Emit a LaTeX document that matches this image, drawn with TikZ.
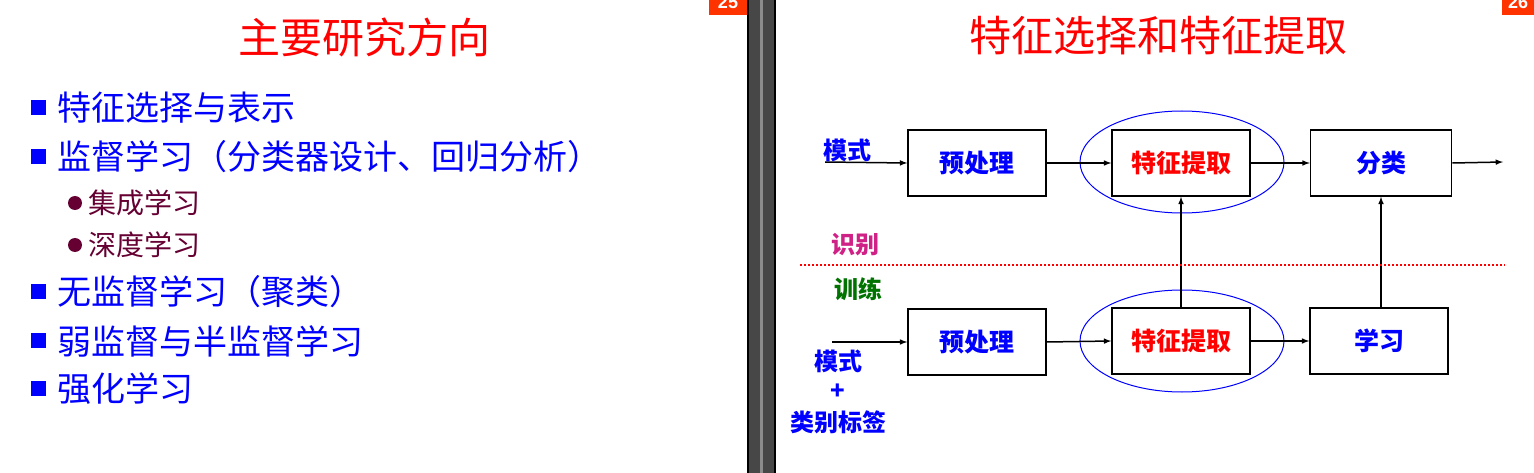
\documentclass[tikz,border=0pt]{standalone}
\usepackage{fontspec}
\usetikzlibrary{shapes.geometric}
\setmainfont{Liberation Sans}
\newfontfamily\cjk{Noto Sans CJK SC}
\newfontfamily\cjkm{Noto Sans CJK SC Medium}
\definecolor{myblue}{RGB}{0,0,255}
\definecolor{myred}{RGB}{255,0,0}
\definecolor{maroon}{RGB}{102,0,51}
\definecolor{orng}{RGB}{255,51,0}
\begin{document}
\begin{tikzpicture}[x=1pt,y=-1pt,
  box/.style={draw,line width=1.5pt,minimum width=138pt,minimum height=66pt,inner sep=0pt,font=\cjk\fontsize{25}{25}\selectfont\bfseries},
  item/.style={anchor=west,text=myblue,font=\cjk\fontsize{34}{34}\selectfont},
  sub/.style={anchor=west,text=maroon,font=\cjk\fontsize{28}{28}\selectfont},
  lbl/.style={font=\cjk\fontsize{24}{24}\selectfont\bfseries},
  arr/.style={-latex,line width=1.5pt},
  ell/.style={draw=myblue,line width=1pt,ellipse,minimum width=204pt,minimum height=102pt}]
\useasboundingbox (0,0) rectangle (1534,473);
\fill[white] (0,0) rectangle (1534,473);
% middle bar
\fill[black] (747,0) rectangle (776,473);
\fill[black!72] (749,0) rectangle (774,473);
\fill[black!45] (760,0) rectangle (763,473);
% page numbers
\fill[orng] (709,0) rectangle (747,15);
\node[text=white,font=\bfseries\fontsize{18}{18}\selectfont] (p1) at (728,2) {25};
\fill[orng] (1502,0) rectangle (1534,15);
\node[text=white,font=\bfseries\fontsize{18}{18}\selectfont] (p2) at (1518,2) {26};
% left slide
\node[text=myred,font=\cjk\fontsize{42}{42}\selectfont] (t1) at (364,37) {主要研究方向};
\foreach \y/\t [count=\i] in {108/特征选择与表示,157/监督学习（分类器设计、回归分析）,292/无监督学习（聚类）,341/弱监督与半监督学习,389/强化学习}{
  \fill[myblue] (31,\y-8) rectangle (46,\y+7);
  \node[item] (it\i) at (54,\y) {\t};
}
\foreach \y/\t [count=\i] in {203/集成学习,245/深度学习}{
  \fill[maroon] (75,\y) circle (7);
  \node[sub] (sb\i) at (85,\y) {\t};
}
% right slide
\node[text=myred,font=\cjk\fontsize{42}{42}\selectfont] (t2) at (1158,36) {特征选择和特征提取};
\node[box,text=myblue] (a1) at (977,163) {预处理};
\node[box,text=myred] (b1) at (1181,163) {特征提取};
\node[box,text=myblue,minimum width=141pt] (c1) at (1381,163) {分类};
\node[ell] (e1) at (1182,162) {};
\node[box,text=myblue] (a2) at (977,342) {预处理};
\node[box,text=myred] (b2) at (1181,341) {特征提取};
\node[box,text=myblue] (c2) at (1379,341) {学习};
\node[ell] (e2) at (1182,341) {};
\coordinate (in1) at (825,162);
\coordinate (out1) at (1503,162);
\coordinate (in2) at (832,342);
\draw[arr] (in1) -- (a1.west);
\draw[arr] (a1.east) -- (b1.west);
\draw[arr] (b1.east) -- (c1.west);
\draw[arr] (c1.east) -- (out1);
\draw[arr] (in2) -- (a2.west);
\draw[arr] (a2.east) -- (b2.west);
\draw[arr] (b2.east) -- (c2.west);
\draw[arr] (b2.north) -- (b1.south);
\draw[arr] (c2.north-|c1.south) -- (c1.south);
\node[lbl,text=myblue] (m1) at (847,150) {模式};
\node[lbl,text=magenta!85!black] (sh) at (855,245) {识别};
\node[lbl,text=green!45!black] (xl) at (858,289) {训练};
\draw[myred,dotted,line width=2pt] (800,265) -- (1505,265);
\node[lbl,text=myblue] (m2) at (838,361) {模式};
\node[lbl,text=myblue] (pl) at (838,392) {+};
\node[lbl,text=myblue] (lb) at (838,422) {类别标签};
\end{tikzpicture}
\end{document}
